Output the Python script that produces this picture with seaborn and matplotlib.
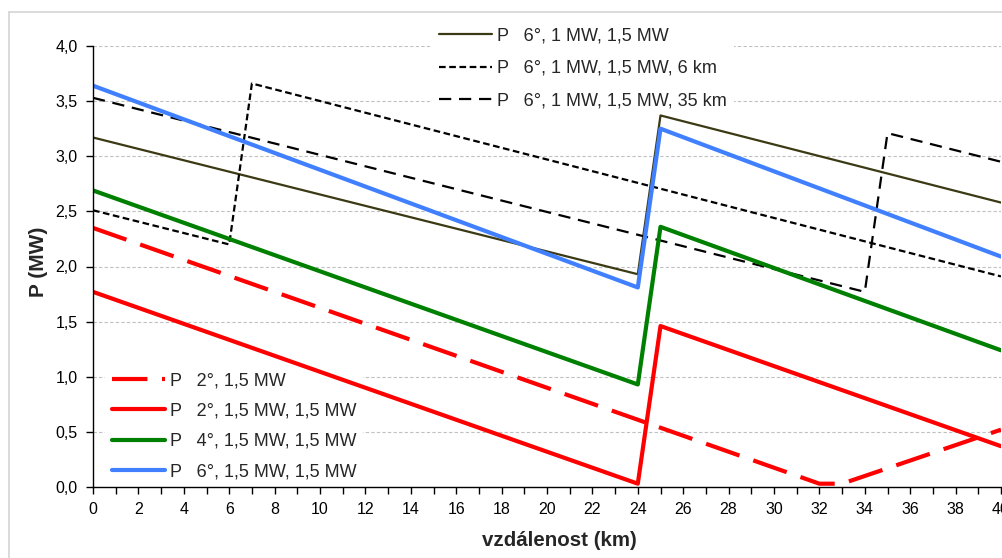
import matplotlib
matplotlib.use("Agg")
import matplotlib.pyplot as plt
from matplotlib.lines import Line2D
from matplotlib.ticker import MultipleLocator, FuncFormatter
import seaborn as sns
import pandas as pd

# distance (km) at each vertex of the piecewise-linear profiles, with power P (MW)
km_6_1 = [0, 24, 25, 40]
p_6_1 = [3.17, 1.93, 3.37, 2.58]

km_6_1_6km = [0, 6, 7, 40]
p_6_1_6km = [2.51, 2.20, 3.66, 1.91]

km_6_1_35km = [0, 34, 35, 40]
p_6_1_35km = [3.53, 1.77, 3.21, 2.95]

km_2_15 = [0, 32, 33, 40]
p_2_15 = [2.35, 0.03, 0.03, 0.52]

km_2_15_15 = [0, 24, 25, 40]
p_2_15_15 = [1.77, 0.03, 1.46, 0.37]

km_4_15_15 = [0, 24, 25, 40]
p_4_15_15 = [2.69, 0.93, 2.36, 1.24]

km_6_15_15 = [0, 24, 25, 40]
p_6_15_15 = [3.64, 1.81, 3.25, 2.09]

labels_top = ["P   6°, 1 MW, 1,5 MW",
              "P   6°, 1 MW, 1,5 MW, 6 km",
              "P   6°, 1 MW, 1,5 MW, 35 km"]
labels_bottom = ["P   2°, 1,5 MW",
                 "P   2°, 1,5 MW, 1,5 MW",
                 "P   4°, 1,5 MW, 1,5 MW",
                 "P   6°, 1,5 MW, 1,5 MW"]

sns.set_style("ticks")
plt.rcParams["font.family"] = ["Liberation Sans", "DejaVu Sans"]

W, H = 1003, 558
fig = plt.figure(figsize=(W / 100, H / 100), dpi=100)
ax = fig.add_axes([93 / W, 71 / H, 908 / W, 441 / H])

olive = "#3b3a14"
red = "#ff0000"
green = "#008000"
blue = "#4080ff"

series = [
    (km_6_1, p_6_1, dict(color=olive, lw=1.6, linestyle="-")),
    (km_6_1_6km, p_6_1_6km, dict(color="black", lw=1.6, linestyle=(0, (3, 1.6)))),
    (km_6_1_35km, p_6_1_35km, dict(color="black", lw=1.6, linestyle=(0, (5.5, 3.5)))),
    (km_2_15, p_2_15, dict(color=red, lw=3.0, linestyle=(0, (8.5, 3.5)))),
    (km_2_15_15, p_2_15_15, dict(color=red, lw=3.0, linestyle="-")),
    (km_4_15_15, p_4_15_15, dict(color=green, lw=3.0, linestyle="-")),
    (km_6_15_15, p_6_15_15, dict(color=blue, lw=3.0, linestyle="-")),
]

handles = []
for xs, ys, st in series:
    df = pd.DataFrame({"km": xs, "P": ys})
    sns.lineplot(data=df, x="km", y="P", ax=ax, zorder=2, **st)
    handles.append(ax.lines[-1])

ax.set_xlim(0, 40)
ax.set_ylim(0, 4.0)
ax.xaxis.set_major_locator(MultipleLocator(2))
ax.xaxis.set_minor_locator(MultipleLocator(1))
ax.yaxis.set_major_locator(MultipleLocator(0.5))
ax.yaxis.set_major_formatter(FuncFormatter(lambda v, _: f"{v:.1f}".replace(".", ",")))
ax.xaxis.set_major_formatter(FuncFormatter(lambda v, _: f"{int(round(v))}"))

ax.yaxis.grid(True, color="#c0c0c0", linestyle=(0, (3, 2)), lw=0.8)
ax.set_axisbelow(True)
for s in ["top", "right"]:
    ax.spines[s].set_visible(False)
for s in ["left", "bottom"]:
    ax.spines[s].set_color("black")
    ax.spines[s].set_linewidth(1.0)

ax.tick_params(axis="both", which="both", direction="out", length=5, width=1,
               color="black", labelsize=11.5, labelcolor="black")
ax.tick_params(axis="x", pad=6)
ax.tick_params(axis="y", pad=6)

ax.set_xlabel("vzdálenost (km)", fontsize=14.8, fontweight="bold", va="top")
ax.xaxis.set_label_coords(0.514, -0.0998)
ax.set_ylabel("P (MW)", fontsize=15, fontweight="bold")
ax.yaxis.set_label_coords(-0.050, 0.51)

legend_style = dict(loc="upper left", bbox_transform=fig.transFigure, frameon=True,
                    fancybox=False, framealpha=1, edgecolor="none", facecolor="white",
                    fontsize=13, handlelength=2.9, handletextpad=0.28,
                    borderpad=0.4, borderaxespad=0)

leg_top = ax.legend(handles[:3], labels_top, bbox_to_anchor=(432 / W, 1 - 20 / H),
                    labelspacing=0.87, **legend_style)
leg_top.set_zorder(1)
ax.add_artist(leg_top)

leg_bottom = ax.legend(handles[3:], labels_bottom, bbox_to_anchor=(105 / W, 1 - 365 / H),
                       labelspacing=0.74, **legend_style)
leg_bottom.set_zorder(1)

# light outer border of the chart area
fig.add_artist(Line2D([9.5 / W, 9.5 / W], [0, 1 - 11.5 / H], transform=fig.transFigure,
                      color="#d4d4d4", lw=1.2))
fig.add_artist(Line2D([9.5 / W, 1], [1 - 11.5 / H, 1 - 11.5 / H], transform=fig.transFigure,
                      color="#d4d4d4", lw=1.2))

fig.savefig("out.png", dpi=100)
